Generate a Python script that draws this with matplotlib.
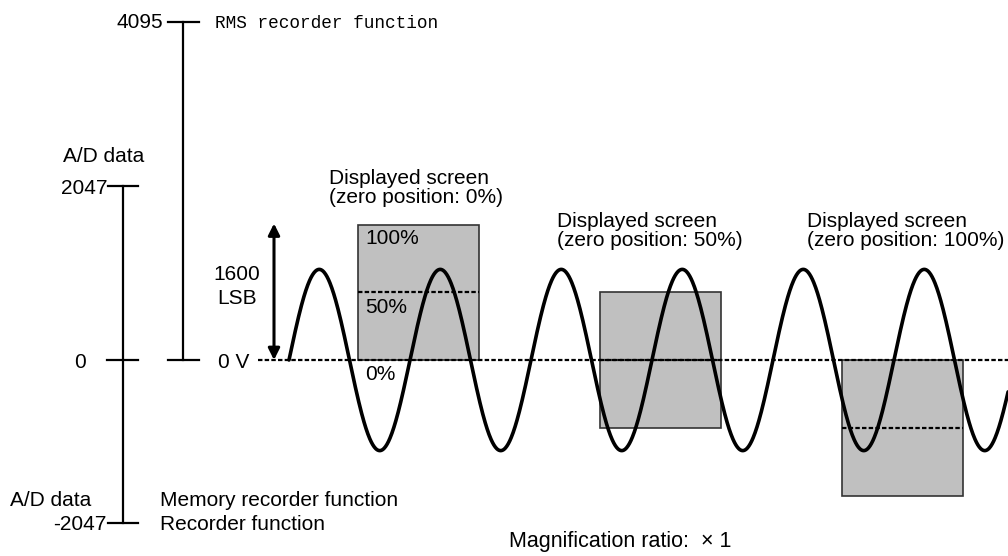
import numpy as np
import matplotlib
matplotlib.use("Agg")
import matplotlib.pyplot as plt
from matplotlib.patches import Rectangle

plt.rcParams['font.family'] = ['Liberation Sans', 'DejaVu Sans']

# ---- data (diagram values) ----
scale_labels = ["4095", "2047", "0", "-2047"]
rms_label = "RMS recorder function"
mem_labels = ["Memory recorder function", "Recorder function"]
range_label = ["1600", "LSB"]
screen_titles = ["Displayed screen\n(zero position: 0%)",
                 "Displayed screen\n(zero position: 50%)",
                 "Displayed screen\n(zero position: 100%)"]
zero_positions = [0, 50, 100]          # % of screen where 0 V sits
percent_labels = ["100%", "50%", "0%"]
range_lsb = 1600                       # screen full scale in LSB
wave_amplitude_lsb = 1070              # sine peak in LSB
wave_period = 121                      # horizontal units per cycle
wave_start = 289                       # x where wave starts (zero crossing)
wave_end = 1010
magnification = "Magnification ratio:  \u00d7 1"

# ---- layout (pixels) ----
W, H = 1008, 556
fig = plt.figure(figsize=(W / 100, H / 100), dpi=100)
ax = fig.add_axes([0, 0, 1, 1])
ax.set_xlim(0, W)
ax.set_ylim(H, 0)
ax.axis('off')

y0 = 360                                # pixel of 0 V
px_per_lsb = 135.5 / range_lsb
def ly(v):
    return y0 - v * px_per_lsb

fs = 15
lw_bar = 1.6
dy = 1  # small text baseline nudge

# RMS recorder scale (0..4095)
xr = 183
ax.plot([xr, xr], [22, y0], color='black', lw=lw_bar)
ax.plot([168, 199], [22, 22], color='black', lw=lw_bar)
ax.plot([168, 199], [y0, y0], color='black', lw=lw_bar)
ax.text(163, 22 + dy, scale_labels[0], ha='right', va='center', fontsize=fs)
ax.text(215, 22 + dy, rms_label, ha='left', va='center', fontsize=12.8,
        family='Liberation Mono')

# Memory recorder scale (-2047..2047)
xm = 123
ax.plot([xm, xm], [186, 523], color='black', lw=lw_bar)
ax.plot([108, 138], [186, 186], color='black', lw=lw_bar)
ax.plot([107, 138], [y0, y0], color='black', lw=lw_bar)
ax.plot([108, 138], [523, 523], color='black', lw=lw_bar)
ax.text(104, 155 + dy, "A/D data", ha='center', va='center', fontsize=fs)
ax.text(107, 187 + dy, scale_labels[1], ha='right', va='center', fontsize=fs)
ax.text(80, 361 + dy, scale_labels[2], ha='center', va='center', fontsize=fs)
ax.text(10, 500 + dy, "A/D data", ha='left', va='center', fontsize=fs)
ax.text(107, 523 + dy, scale_labels[3], ha='right', va='center', fontsize=fs)
ax.text(160, 500 + dy, mem_labels[0], ha='left', va='center', fontsize=fs)
ax.text(160, 523 + dy, mem_labels[1], ha='left', va='center', fontsize=fs)

# 0 V label and dashed baseline
ax.text(218, 361 + dy, "0 V", ha='left', va='center', fontsize=fs)
ax.plot([258, W], [y0, y0], color='black', lw=1.6, ls=(0, (2, 1)), zorder=3)

# 1600 LSB arrow
ax.annotate("", xy=(274, ly(range_lsb) - 1), xytext=(274, y0),
            arrowprops=dict(arrowstyle='<|-|>', color='black', lw=2.2,
                            mutation_scale=17, shrinkA=0, shrinkB=0))
ax.text(237, 273 + dy, range_label[0], ha='center', va='center', fontsize=fs)
ax.text(237, 297 + dy, range_label[1], ha='center', va='center', fontsize=fs)

# displayed screens
box_x = [358, 600, 842]
box_w = 121
title_x = [329, 557, 807]
title_y = [188, 231, 231]
for i, zp in enumerate(zero_positions):
    bottom = -range_lsb * zp / 100
    top = bottom + range_lsb
    rect = Rectangle((box_x[i], ly(top)), box_w, ly(bottom) - ly(top),
                     facecolor='#c0c0c0', edgecolor='#333333', lw=1.2, zorder=1)
    ax.add_patch(rect)
    mid = (top + bottom) / 2
    ax.plot([box_x[i], box_x[i] + box_w], [ly(mid), ly(mid)], color='black',
            lw=1.6, ls=(0, (2, 1)), zorder=3)
    ax.text(title_x[i], title_y[i], screen_titles[i], ha='left', va='center',
            fontsize=fs, linespacing=1.0)

# percent labels on first screen
ax.text(365, ly(range_lsb) + 14, percent_labels[0], ha='left', va='center', fontsize=fs)
ax.text(365, ly(range_lsb / 2) + 15, percent_labels[1], ha='left', va='center', fontsize=fs)
ax.text(365, y0 + 14, percent_labels[2], ha='left', va='center', fontsize=fs)

# sine wave
xs = np.linspace(wave_start, wave_end, 1500)
ys = ly(wave_amplitude_lsb * np.sin(2 * np.pi * (xs - wave_start) / wave_period))
ax.plot(xs, ys, color='black', lw=2.6, zorder=4, solid_capstyle='round')

ax.text(509, 541, magnification, ha='left', va='center', fontsize=15.5)

fig.savefig("out.png", dpi=100)
